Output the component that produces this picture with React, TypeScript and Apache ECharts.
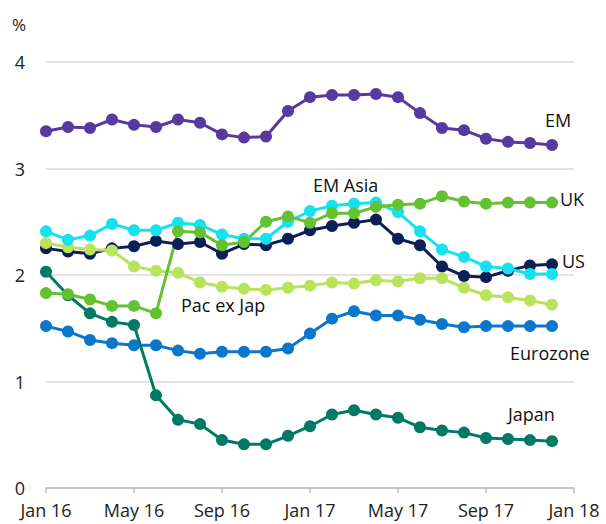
import React, { useEffect, useRef } from "react";
import * as echarts from "echarts";

const months = [
  "Jan 16","Feb 16","Mar 16","Apr 16","May 16","Jun 16","Jul 16","Aug 16","Sep 16","Oct 16","Nov 16","Dec 16",
  "Jan 17","Feb 17","Mar 17","Apr 17","May 17","Jun 17","Jul 17","Aug 17","Sep 17","Oct 17","Nov 17","Dec 17",
];
const tickLabels = ["Jan 16", "May 16", "Sep 16", "Jan 17", "May 17", "Sep 17", "Jan 18"];

const em = [3.35,3.39,3.38,3.46,3.41,3.39,3.46,3.43,3.32,3.29,3.30,3.54,3.67,3.69,3.69,3.70,3.67,3.52,3.38,3.36,3.28,3.25,3.24,3.22];
const emAsia = [2.41,2.33,2.37,2.48,2.42,2.42,2.49,2.47,2.38,2.34,2.34,2.50,2.60,2.65,2.67,2.68,2.59,2.41,2.24,2.17,2.08,2.06,2.01,2.01];
const us = [2.25,2.22,2.20,2.25,2.27,2.32,2.29,2.31,2.20,2.29,2.28,2.34,2.42,2.46,2.49,2.52,2.34,2.28,2.08,1.99,1.98,2.04,2.09,2.10];
const uk = [1.83,1.82,1.77,1.71,1.71,1.64,2.41,2.40,2.28,2.31,2.50,2.55,2.49,2.58,2.58,2.64,2.66,2.67,2.74,2.69,2.67,2.68,2.68,2.68];
const pacExJap = [2.30,2.26,2.24,2.23,2.08,2.04,2.02,1.93,1.89,1.87,1.86,1.88,1.90,1.93,1.92,1.95,1.94,1.97,1.97,1.88,1.81,1.79,1.76,1.72];
const japan = [2.03,1.81,1.64,1.56,1.53,0.87,0.64,0.60,0.45,0.41,0.41,0.49,0.58,0.69,0.73,0.69,0.66,0.57,0.54,0.52,0.47,0.46,0.45,0.44];
const eurozone = [1.52,1.47,1.39,1.36,1.34,1.34,1.29,1.26,1.28,1.28,1.28,1.31,1.45,1.59,1.66,1.62,1.62,1.58,1.54,1.51,1.52,1.52,1.52,1.52];

const seriesDefs = [
  { name: "Eurozone", data: eurozone, color: "#0b77cc" },
  { name: "Japan", data: japan, color: "#007a64" },
  { name: "US", data: us, color: "#0c1f57" },
  { name: "Pac ex Jap", data: pacExJap, color: "#b9e35a" },
  { name: "EM Asia", data: emAsia, color: "#16e1ee" },
  { name: "UK", data: uk, color: "#63c132" },
  { name: "EM", data: em, color: "#573a9f" },
];

const labelDefs = [
  { text: "EM", x: 545, y: 120 },
  { text: "UK", x: 560, y: 199 },
  { text: "US", x: 562, y: 261 },
  { text: "EM Asia", x: 313, y: 185 },
  { text: "Pac ex Jap", x: 181, y: 305 },
  { text: "Eurozone", x: 510, y: 353 },
  { text: "Japan", x: 508, y: 414 },
];

const FONT = "'Open Sans', 'Noto Sans', sans-serif";

export default function App() {
  const ref = useRef<HTMLDivElement>(null);
  useEffect(() => {
    if (!ref.current) return;
    const chart = echarts.init(ref.current, undefined, { renderer: "svg" });
    chart.setOption({
      animation: false,
      backgroundColor: "#ffffff",
      grid: { left: 46, right: 32, top: 62, bottom: 36 },
      xAxis: {
        type: "value",
        min: 0,
        max: 24,
        interval: 4,
        axisLine: { show: true, lineStyle: { color: "#bdbdbd", width: 1.5 } },
        axisTick: { show: true, length: 5, lineStyle: { color: "#bdbdbd", width: 1.5 } },
        splitLine: { show: false },
        axisLabel: {
          color: "#222",
          fontSize: 18,
          fontFamily: FONT,
          margin: 13,
          formatter: (v: number) => tickLabels[Math.round(v / 4)] ?? "",
        },
      },
      yAxis: {
        type: "value",
        min: 0,
        max: 4,
        interval: 1,
        axisLine: { show: false },
        axisTick: { show: false },
        splitLine: { show: true, lineStyle: { color: "#d9d9d9", width: 1.5 } },
        axisLabel: { color: "#222", fontSize: 18, fontFamily: FONT, margin: 21, verticalAlign: "bottom", lineHeight: 18, padding: [0, 0, -9, 0] },
      },
      series: seriesDefs.map((s) => ({
        name: s.name,
        type: "line",
        data: s.data.map((v, i) => [i, v]),
        symbol: "circle",
        symbolSize: 12,
        lineStyle: { color: s.color, width: 3 },
        itemStyle: { color: s.color },
        z: 2,
      })),
      graphic: [
        {
          type: "text",
          x: 12,
          y: 24,
          style: { text: "%", fill: "#222", fontSize: 17, fontFamily: FONT, verticalAlign: "middle" },
        },
        ...labelDefs.map((l) => ({
          type: "text",
          x: l.x,
          y: l.y,
          style: { text: l.text, fill: "#111", fontSize: 18, fontFamily: FONT, verticalAlign: "middle" },
          z: 10,
        })),
      ],
    });
    return () => chart.dispose();
  }, []);
  return <div ref={ref} style={{ width: 606, height: 524, position: "absolute", left: 0, top: 0 }} />;
}
